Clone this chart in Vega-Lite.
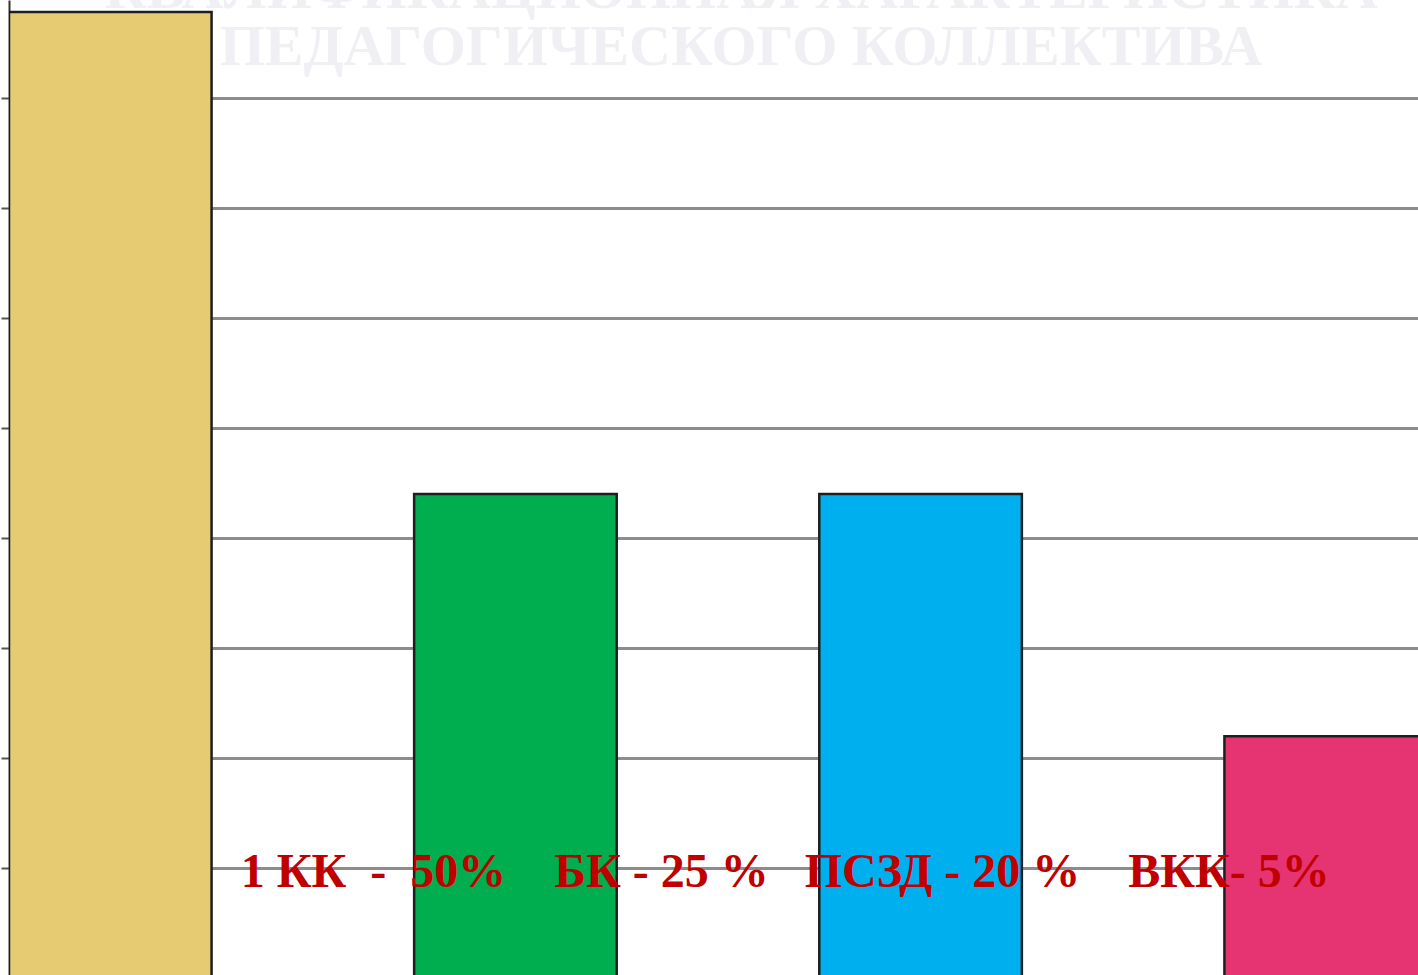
{
  "$schema": "https://vega.github.io/schema/vega-lite/v6.json",
  "autosize": {"type": "fit", "contains": "padding"},
  "width": 1418,
  "height": 975,
  "padding": 0,
  "background": "white",
  "config": {"view": {"stroke": null}},
  "datasets": {
    "bars": [
      {"cat": "1 КК", "value": 8.78},
      {"cat": "БК", "value": 4.4},
      {"cat": "ПСЗД", "value": 4.4},
      {"cat": "ВКК", "value": 2.2}
    ],
    "labels": [
      {"text": "1 КК\u00a0 -\u00a0 50%\u00a0\u00a0\u00a0 БК - 25 %\u00a0\u00a0 ПСЗД - 20 %\u00a0\u00a0\u00a0 ВКК- 5%"}
    ],
    "heading": [
      {"lines": ["КВАЛИФИКАЦИОННАЯ ХАРАКТЕРИСТИКА", "ПЕДАГОГИЧЕСКОГО КОЛЛЕКТИВА"]}
    ]
  },
  "layer": [
    {
      "data": {"name": "bars"},
      "mark": {"type": "bar", "stroke": "#1e1e1e", "strokeWidth": 2.5, "clip": true},
      "encoding": {
        "x": {
          "field": "cat", "type": "nominal", "sort": null,
          "scale": {"domain": ["1 КК", "БК", "ПСЗД", "ВКК"], "range": [0, 1418], "paddingInner": 0.5, "paddingOuter": 0},
          "axis": null
        },
        "y": {
          "field": "value", "type": "quantitative",
          "scale": {"domain": [0.03, 8.89], "nice": false, "zero": false},
          "axis": {
            "values": [1, 2, 3, 4, 5, 6, 7, 8],
            "labels": false, "title": null,
            "ticks": true, "tickSize": 8, "tickColor": "#555555", "tickWidth": 2,
            "domain": true, "domainColor": "#333333", "domainWidth": 2,
            "grid": true, "gridColor": "#8c8c8c", "gridWidth": 3
          }
        },
        "color": {
          "field": "cat", "type": "nominal",
          "scale": {"domain": ["1 КК", "БК", "ПСЗД", "ВКК"], "range": ["#E6CB72", "#00AE50", "#00B0EE", "#E63472"]},
          "legend": null
        }
      }
    },
    {
      "data": {"name": "heading"},
      "mark": {"type": "text", "font": "Liberation Serif", "fontWeight": "bold", "fontSize": 58, "color": "#F0EFF4", "align": "center", "baseline": "alphabetic", "lineHeight": 57, "clip": true},
      "encoding": {
        "text": {"field": "lines", "type": "nominal"},
        "x": {"datum": "ПСЗД", "type": "nominal", "bandPosition": -0.386},
        "y": {"datum": 8.82, "type": "quantitative"}
      }
    },
    {
      "data": {"name": "labels"},
      "mark": {"type": "text", "font": "Liberation Serif", "fontWeight": "bold", "fontSize": 48, "color": "#C00000", "align": "right", "baseline": "alphabetic", "clip": true},
      "encoding": {
        "text": {"field": "text", "type": "nominal"},
        "x": {"datum": "ВКК", "type": "nominal", "bandPosition": 0.52},
        "y": {"datum": 0.83, "type": "quantitative"}
      }
    }
  ]
}
